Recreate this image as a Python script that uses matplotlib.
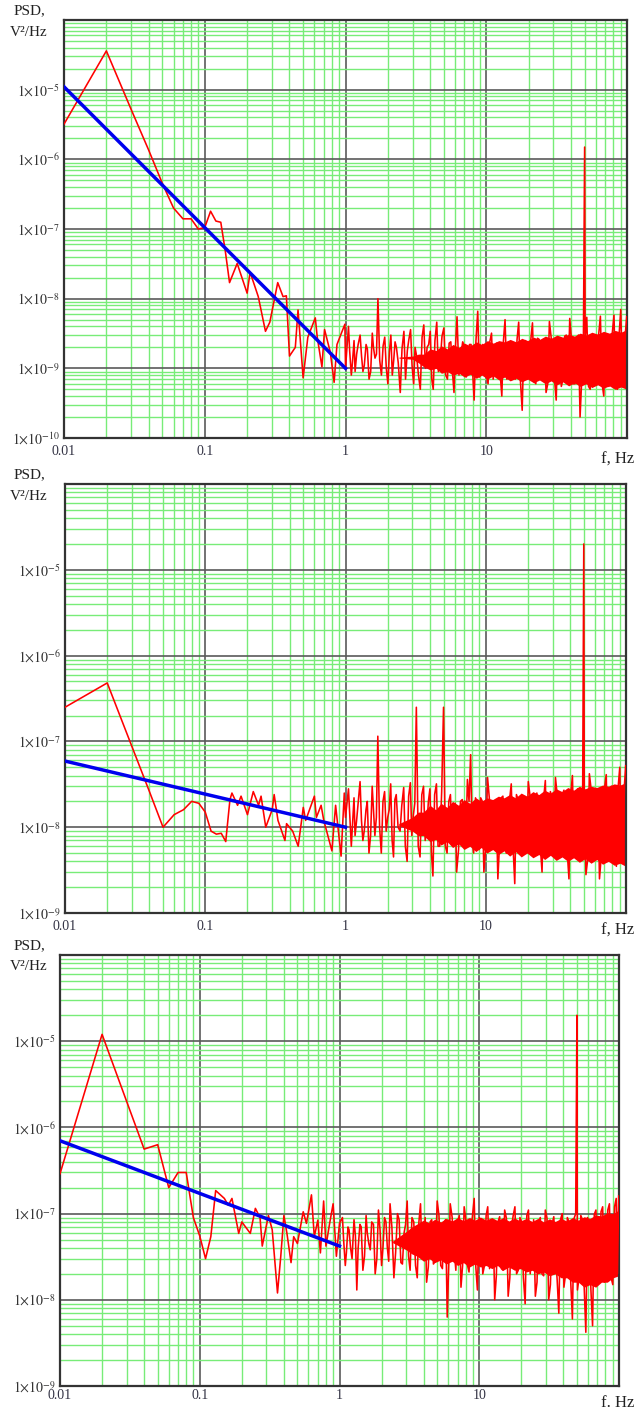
import numpy as np
import matplotlib.pyplot as plt
from matplotlib.ticker import LogLocator, FuncFormatter, NullFormatter

plt.rcParams['font.family'] = ['Liberation Serif', 'DejaVu Serif']
plt.rcParams['mathtext.fontset'] = 'stix'

# -----------------------------
# Data
# -----------------------------
# low-frequency part (individual spectral lines visible)
p1_f_low = [0.01, 0.02, 0.03, 0.04, 0.05, 0.06, 0.07, 0.08, 0.09, 0.1, 0.11, 0.12,
            0.13, 0.14, 0.15, 0.17, 0.2, 0.21, 0.24, 0.27, 0.29, 0.33, 0.36, 0.38,
            0.4, 0.44, 0.46, 0.5, 0.54, 0.61, 0.63, 0.68, 0.71, 0.78, 0.83, 0.87,
            0.99, 1.0]
p1_psd_low = [3.2e-6, 3.6e-5, 5.2e-6, 1.35e-6, 4.5e-7, 2.0e-7, 1.4e-7, 1.4e-7, 1.0e-7,
              1.05e-7, 1.8e-7, 1.3e-7, 1.25e-7, 4.8e-8, 1.7e-8, 3.2e-8, 1.2e-8, 2.4e-8,
              1.07e-8, 3.4e-9, 4.6e-9, 1.7e-8, 1.07e-8, 1.1e-8, 1.5e-9, 2.0e-9, 6.9e-9,
              7.3e-10, 2.8e-9, 5.3e-9, 2.8e-9, 1.05e-9, 3.6e-9, 1.7e-9, 6.3e-10, 2.2e-9,
              4.3e-9, 1.0e-9]

p2_f_low = [0.01, 0.02, 0.03, 0.04, 0.05, 0.06, 0.07, 0.08, 0.09, 0.1, 0.11, 0.12,
            0.13, 0.14, 0.15, 0.155, 0.17, 0.18, 0.2, 0.22, 0.24, 0.25, 0.27, 0.3,
            0.31, 0.33, 0.37, 0.38, 0.42, 0.46, 0.5, 0.52, 0.6, 0.62, 0.67, 0.7,
            0.8, 0.85, 0.93, 0.98, 1.0]
p2_psd_low = [2.5e-7, 4.8e-7, 8.7e-8, 2.6e-8, 1.0e-8, 1.4e-8, 1.6e-8, 2.0e-8, 1.9e-8,
              1.5e-8, 9.0e-9, 8.3e-9, 8.5e-9, 6.8e-9, 2.1e-8, 2.5e-8, 1.8e-8, 2.3e-8,
              1.4e-8, 2.6e-8, 1.8e-8, 2.3e-8, 1.0e-8, 1.6e-8, 2.4e-8, 1.2e-8, 7.0e-9,
              1.1e-8, 9.0e-9, 6.0e-9, 1.7e-8, 1.2e-8, 2.3e-8, 1.3e-8, 1.8e-8, 1.2e-8,
              5.3e-9, 1.8e-8, 4.6e-9, 2.5e-8, 1.3e-8]

p3_f_low = [0.01, 0.02, 0.03, 0.04, 0.05, 0.06, 0.07, 0.08, 0.09, 0.1, 0.11, 0.12,
            0.13, 0.15, 0.16, 0.17, 0.19, 0.2, 0.23, 0.25, 0.27, 0.28, 0.31, 0.33,
            0.36, 0.38, 0.4, 0.42, 0.45, 0.47, 0.5, 0.55, 0.58, 0.63, 0.66, 0.7,
            0.73, 0.77, 0.8, 0.85, 0.9, 0.95, 1.0]
p3_psd_low = [2.9e-7, 1.2e-5, 2.0e-6, 5.6e-7, 6.3e-7, 2.0e-7, 3.0e-7, 3.0e-7, 9.0e-8,
              5.5e-8, 3.0e-8, 5.4e-8, 1.85e-7, 1.5e-7, 1.25e-7, 1.5e-7, 5.9e-8, 8.0e-8,
              5.9e-8, 1.15e-7, 9.0e-8, 4.2e-8, 9.5e-8, 6.5e-8, 1.2e-8, 3.2e-8, 9.5e-8,
              6.0e-8, 2.7e-8, 5.4e-8, 4.5e-8, 1.05e-7, 7.7e-8, 1.65e-7, 5.4e-8, 8.4e-8,
              3.5e-8, 1.4e-7, 4.2e-8, 7.7e-8, 1.3e-7, 3.2e-8, 7.7e-8]

# high-frequency part: peaks / dips of the noisy trace
f_noise = [1.05, 1.1, 1.15, 1.2, 1.27, 1.33, 1.4, 1.47, 1.55, 1.62, 1.7, 1.8, 1.9,
           2.0, 2.1, 2.2, 2.3, 2.45, 2.6, 2.75, 2.9, 3.05, 3.2, 3.4, 3.6, 3.8, 4.0,
           4.2, 4.45, 4.7, 5.0, 5.3, 5.6, 5.9, 6.2, 6.6, 7.0, 7.4, 7.8, 8.2, 8.7,
           9.2, 9.7, 10.3, 10.9, 11.5, 12.2, 12.9, 13.6, 14.4, 15.2, 16.1, 17.0,
           18.0, 19.0, 20.1, 21.3, 22.5, 23.8, 25.2, 26.6, 28.1, 29.7, 31.4, 33.2,
           35.1, 37.1, 39.2, 41.5, 43.9, 46.4, 49.0, 51.8, 54.8, 57.9, 61.2, 64.7,
           68.4, 72.3, 76.4, 80.8, 85.4, 90.3, 95.5, 99.5]

p1_noise = [4.0, 0.8, 2.5, 1.6, 3.0, 0.9, 2.2, 0.7, 3.2, 1.4, 10.0, 0.8, 2.8, 0.6,
            3.0, 1.3, 2.0, 0.45, 3.4, 1.8, 3.6, 0.6, 1.5, 0.5, 4.2, 2.0, 3.4, 0.5, 4.6, 1.2,
            3.8, 0.7, 2.4, 0.45, 5.5, 1.5, 2.1, 0.9, 2.2, 0.35, 6.6, 0.9, 2.0,
            0.6, 3.2, 1.0, 2.2, 0.4, 5.0, 0.8, 2.0, 0.7, 4.6, 0.25, 2.5,
            0.8, 4.5, 0.6, 2.6, 1.9, 0.45, 4.7, 1.0, 0.35, 2.4, 0.7, 3.0, 5.2, 0.6, 2.6,
            0.2, 2.4, 5.4, 0.5, 2.8, 0.6, 5.6, 0.4, 3.0, 0.7, 5.8, 0.5, 7.0, 0.6, 5.5]  # x 1e-9
p2_noise = [2.8, 0.6, 2.2, 1.2, 3.4, 0.7, 1.6, 0.5, 3.0, 0.8, 11.5, 0.5, 2.6, 1.3,
            3.2, 0.45, 2.4, 0.9, 2.9, 0.4, 3.3, 1.4, 25.0, 0.45, 3.0, 1.0, 2.8, 0.27, 3.2, 0.6,
            25.0, 0.5, 2.4, 1.2, 0.3, 2.0, 0.6, 3.6, 7.0, 0.5, 1.4, 2.2, 0.3,
            3.8, 0.6, 2.0, 0.25, 2.2, 1.1, 0.5, 3.2, 0.22, 2.1, 1.0, 0.5,
            3.4, 0.5, 2.3, 1.2, 0.3, 3.5, 0.6, 2.2, 3.8, 0.45, 2.4, 0.9, 0.25, 4.0, 0.5,
            2.6, 1.3, 0.28, 4.2, 0.5, 2.5, 0.25, 2.4, 4.1, 0.4, 2.8, 0.35, 5.0, 0.5, 5.2]  # x 1e-8
p3_noise = [9.0, 2.5, 7.0, 4.0, 8.5, 1.3, 7.5, 2.2, 9.5, 4.5, 8.0, 2.0, 11.0, 2.5,
            9.0, 4.0, 13.0, 1.8, 10.0, 2.7, 6.0, 14.0, 2.2, 8.0, 1.8, 13.0, 4.0, 1.6, 8.0, 2.6,
            14.0, 2.5, 8.0, 0.63, 13.0, 4.0, 8.0, 1.4, 12.0, 2.6, 6.0, 15.0, 1.3,
            8.0, 2.5, 12.0, 4.5, 1.0, 8.0, 2.3, 11.0, 1.1, 7.0, 12.0, 2.2,
            8.0, 0.9, 11.0, 4.0, 1.1, 8.0, 2.0, 11.0, 1.0, 7.5, 3.5, 0.7, 10.0, 2.0, 8.0,
            0.6, 10.0, 1.8, 8.5, 0.42, 7.5, 0.5, 11.0, 1.6, 12.0, 3.0, 13.0, 1.5, 15.0, 16.0]  # x 1e-8

# in-between readings of the same trace
f_mid = [1.07, 1.12, 1.17, 1.23, 1.3, 1.36, 1.43, 1.51, 1.58, 1.66, 1.75, 1.85, 1.95,
         2.05, 2.15, 2.25, 2.37, 2.52, 2.67, 2.82, 2.97, 3.12, 3.3, 3.5, 3.7, 3.9, 4.1,
         4.32, 4.57, 4.85, 5.15, 5.45, 5.75, 6.05, 6.4, 6.8, 7.2, 7.6, 8.0, 8.45, 8.95,
         9.45, 10.0, 10.6, 11.2, 11.85, 12.55, 13.25, 14.0, 14.8, 15.65, 16.55, 17.5,
         18.5, 19.55, 20.7, 21.9, 23.15, 24.5, 25.9, 27.35, 28.9, 30.55, 32.3, 34.15,
         36.1, 38.15, 40.35, 42.7, 45.15, 47.7, 50.4, 53.3, 56.35, 59.55, 62.95, 66.55,
         70.35, 74.35, 78.6, 83.1, 87.85, 92.9, 97.5]
p1_mid = [1.8, 1.2, 0.9, 2.2, 1.5, 1.1, 1.9, 0.9, 2.0, 1.6, 1.3, 2.1, 1.0, 1.7,
          0.8, 2.4, 1.2, 1.9, 0.7, 2.6, 1.1, 2.0, 0.8, 2.8, 1.0, 2.2, 0.7, 2.5, 0.9, 2.9,
          0.8, 2.3, 0.9, 2.1, 0.8, 2.4, 0.75, 2.2, 0.9, 2.5, 0.75, 2.2,
          0.8, 2.4, 0.7, 2.3, 0.85, 2.5, 0.7, 2.4, 0.8, 2.6, 0.65, 2.3,
          0.7, 2.5, 0.65, 2.7, 0.75, 2.4, 0.6, 2.8, 0.7, 2.6, 0.55, 2.9, 0.65, 2.5, 0.6,
          3.0, 0.7, 2.7, 0.55, 2.9, 0.6, 3.1, 0.6, 2.8, 0.55, 3.2, 0.6, 3.0, 0.55, 3.3]  # x 1e-9
p2_mid = [1.5, 1.0, 0.8, 1.9, 1.2, 0.9, 2.0, 0.8, 1.7, 1.3, 1.0, 2.0, 0.9, 1.6,
          0.7, 2.1, 1.0, 1.8, 0.6, 2.3, 0.8, 1.9, 0.6, 2.4, 0.7, 2.0, 0.5, 2.4, 0.6, 2.6,
          0.6, 2.0, 0.7, 1.9, 0.55, 2.1, 0.6, 2.0, 0.7, 2.2, 0.55, 2.0,
          0.6, 2.2, 0.55, 2.0, 0.65, 2.3, 0.5, 2.1, 0.6, 2.4, 0.5, 2.2,
          0.55, 2.3, 0.5, 2.5, 0.6, 2.2, 0.48, 2.6, 0.55, 2.4, 0.45, 2.7, 0.5, 2.4, 0.45,
          2.8, 0.55, 2.5, 0.42, 2.8, 0.5, 2.7, 0.45, 2.9, 0.42, 3.0, 0.45, 2.9, 0.4, 3.1]  # x 1e-8
p3_mid = [5.0, 3.5, 6.5, 3.0, 5.5, 4.0, 7.0, 3.2, 6.0, 3.8, 7.5, 3.0, 6.5, 4.2,
          8.0, 2.8, 7.0, 3.5, 8.5, 2.6, 7.5, 3.2, 9.0, 2.5, 8.0, 3.0, 9.0, 2.4, 8.5, 2.8,
          9.5, 2.3, 8.5, 2.6, 9.0, 2.2, 9.5, 2.5, 8.8, 2.1, 9.5, 2.4,
          9.0, 2.0, 9.5, 2.3, 8.5, 1.9, 9.2, 2.2, 8.8, 1.8, 9.5, 2.0,
          9.0, 1.8, 9.5, 2.0, 8.5, 1.6, 9.0, 1.9, 8.8, 1.5, 9.2, 1.7, 8.5, 1.4, 9.0,
          1.6, 8.8, 1.3, 9.5, 1.4, 9.0, 1.3, 9.8, 1.5, 10.5, 1.6, 11.0, 1.8, 12.0, 2.0]  # x 1e-8

# solid core of the dense noise band (lower / upper edge)
f_edge = [2.4, 3.0, 3.3, 3.6, 4.0, 4.4, 4.8, 5.3, 5.8, 6.4, 7.0, 7.7, 8.5, 9.3, 10.2,
          11.2, 12.3, 13.5, 14.8, 16.3, 17.9, 19.7, 21.7, 23.9, 26.3, 28.9, 31.8,
          35.0, 38.5, 42.3, 46.5, 51.2, 56.3, 61.9, 68.1, 74.9, 82.4, 90.6, 99.7]
p1_edge_lo = [1.4, 1.35, 1.2, 1.05, 0.95, 1.0, 0.85, 0.9, 0.8, 0.85, 0.75, 0.82, 0.72, 0.8,
              0.7, 0.78, 0.68, 0.75, 0.66, 0.72, 0.64, 0.7, 0.62, 0.68, 0.6, 0.66,
              0.58, 0.64, 0.56, 0.62, 0.55, 0.6, 0.53, 0.58, 0.52, 0.56, 0.5, 0.54, 0.5]
p1_edge_hi = [1.45, 1.5, 1.6, 1.6, 1.9, 1.8, 2.1, 1.9, 2.2, 2.0, 2.3, 2.1, 2.4, 2.2, 2.5,
              2.3, 2.5, 2.4, 2.6, 2.4, 2.7, 2.5, 2.8, 2.6, 2.9, 2.7, 3.0, 2.8, 3.1,
              2.9, 3.2, 3.0, 3.3, 3.1, 3.4, 3.2, 3.5, 3.3, 3.6]            # x 1e-9
p2_edge_lo = [1.05, 0.9, 0.8, 0.8, 0.68, 0.72, 0.62, 0.68, 0.58, 0.64, 0.55, 0.6, 0.52,
              0.58, 0.5, 0.55, 0.48, 0.53, 0.46, 0.52, 0.45, 0.5, 0.44, 0.48, 0.42,
              0.47, 0.41, 0.45, 0.4, 0.44, 0.39, 0.43, 0.38, 0.42, 0.37, 0.4, 0.36,
              0.38, 0.35]
p2_edge_hi = [1.1, 1.3, 1.5, 1.5, 1.8, 1.6, 1.9, 1.7, 2.0, 1.8, 2.1, 1.9, 2.2, 2.0, 2.2,
              2.1, 2.3, 2.2, 2.4, 2.2, 2.5, 2.3, 2.6, 2.4, 2.7, 2.5, 2.8, 2.6, 2.9,
              2.7, 3.0, 2.8, 3.0, 2.9, 3.1, 3.0, 3.2, 3.1, 3.3]            # x 1e-8
p3_edge_lo = [4.6, 3.8, 3.4, 3.2, 2.8, 3.0, 2.7, 2.9, 2.6, 2.8, 2.5, 2.7, 2.4, 2.6, 2.4,
              2.5, 2.3, 2.5, 2.2, 2.4, 2.2, 2.3, 2.1, 2.2, 2.0, 2.1, 1.9, 2.0, 1.8,
              1.8, 1.6, 1.6, 1.4, 1.5, 1.4, 1.6, 1.6, 1.8, 1.9]
p3_edge_hi = [4.8, 6.2, 7.0, 7.6, 8.4, 7.8, 8.6, 8.0, 8.8, 8.2, 9.0, 8.3, 9.0, 8.4, 9.1,
              8.4, 9.0, 8.3, 9.0, 8.2, 8.9, 8.2, 8.8, 8.1, 8.8, 8.0, 8.7, 8.1, 8.8,
              8.2, 9.0, 8.4, 9.2, 8.8, 9.6, 9.4, 10.2, 10.0, 11.0]         # x 1e-8

# 50 Hz line
spike_f = 50.0
p1_spike = 1.5e-6
p2_spike = 2.0e-5
p3_spike = 2.0e-5

# power-law fits (blue)
fit_f = [0.01, 1.0]
p1_fit = [1.1e-5, 1.0e-9]
p2_fit = [5.9e-8, 1.0e-8]
p3_fit = [7.0e-7, 4.2e-8]

panels = [
    dict(rect=(64, 20, 627, 438), ylim=(1e-10, 1e-4), f_low=p1_f_low, psd_low=p1_psd_low,
         noise=p1_noise, mid=p1_mid, unit=1e-9, lo=p1_edge_lo, hi=p1_edge_hi,
         spike=p1_spike, fit=p1_fit, flabel="f, Hz", fy=22, pad=5),
    dict(rect=(65, 484, 626, 913), ylim=(1e-9, 1e-4), f_low=p2_f_low, psd_low=p2_psd_low,
         noise=p2_noise, mid=p2_mid, unit=1e-8, lo=p2_edge_lo, hi=p2_edge_hi,
         spike=p2_spike, fit=p2_fit, flabel="f, Hz", fy=18, pad=5),
    dict(rect=(60, 955, 619, 1386), ylim=(1e-9, 1e-4), f_low=p3_f_low, psd_low=p3_psd_low,
         noise=p3_noise, mid=p3_mid, unit=1e-8, lo=p3_edge_lo, hi=p3_edge_hi,
         spike=p3_spike, fit=p3_fit, flabel="f. Hz", fy=17, pad=2),
]

W, H = 635, 1415
fig = plt.figure(figsize=(W / 100, H / 100), dpi=100)


def yfmt(v, pos, top):
    if v >= top * 0.99:
        return ""
    e = int(round(np.log10(v)))
    return r"$1{\times}10^{%d}$" % e


def xfmt(v, pos):
    labels = {0.01: "0.01", 0.1: "0.1", 1.0: "1", 10.0: "10"}
    for k, s in labels.items():
        if abs(v - k) < 1e-9 * max(k, 1):
            return s
    return ""


for p in panels:
    l, t, r, b = p["rect"]
    ax = fig.add_axes([l / W, 1 - b / H, (r - l) / W, (b - t) / H])
    ax.set_xscale("log")
    ax.set_yscale("log")
    ax.set_xlim(0.01, 100)
    ax.set_ylim(*p["ylim"])

    ax.xaxis.set_major_locator(LogLocator(base=10, numticks=20))
    ax.yaxis.set_major_locator(LogLocator(base=10, numticks=20))
    ax.xaxis.set_minor_locator(LogLocator(base=10, subs=np.arange(2, 10), numticks=50))
    ax.yaxis.set_minor_locator(LogLocator(base=10, subs=np.arange(2, 10), numticks=50))
    ax.xaxis.set_minor_formatter(NullFormatter())
    ax.yaxis.set_minor_formatter(NullFormatter())
    ax.xaxis.set_major_formatter(FuncFormatter(xfmt))
    top = p["ylim"][1]
    ax.yaxis.set_major_formatter(FuncFormatter(lambda v, pos, top=top: yfmt(v, pos, top)))

    ax.set_axisbelow(True)
    ax.grid(which="minor", color="#78ec78", lw=1.0)
    ax.grid(which="major", color="#5a5a5a", lw=1.2)
    ax.tick_params(which="both", length=0)
    ax.tick_params(axis="x", labelsize=10, pad=p["pad"], labelcolor="#333344")
    ax.tick_params(axis="y", labelsize=10, pad=3, labelcolor="#333333")
    for s in ax.spines.values():
        s.set_color("#333333")
        s.set_linewidth(1.6)

    unit = p["unit"]
    ax.fill_between(f_edge, np.array(p["lo"]) * unit, np.array(p["hi"]) * unit,
                    color="red", lw=0, zorder=2)

    f_all = list(p["f_low"]) + f_noise + f_mid + [spike_f]
    y_all = (list(p["psd_low"]) + [v * unit for v in p["noise"]]
             + [v * unit for v in p["mid"]] + [p["spike"]])
    order = np.argsort(f_all)
    f_all = np.array(f_all)[order]
    y_all = np.array(y_all)[order]
    ax.plot(f_all, y_all, color="red", lw=1.15, zorder=3)
    ax.plot(fit_f, p["fit"], color="#0000ee", lw=2.5, zorder=4)

    # axis captions
    fig.text(29 / W, 1 - (t - 9) / H, "PSD,", ha="center", va="center",
             fontsize=11, color="#222222")
    fig.text(29 / W, 1 - (t + 12) / H, "V\u00b2/Hz", ha="center", va="center",
             fontsize=11, color="#222222")
    fig.text(634 / W, 1 - (b + p["fy"]) / H, p["flabel"], ha="right", va="center",
             fontsize=12, color="#222222")

fig.savefig("out.png", dpi=100)
